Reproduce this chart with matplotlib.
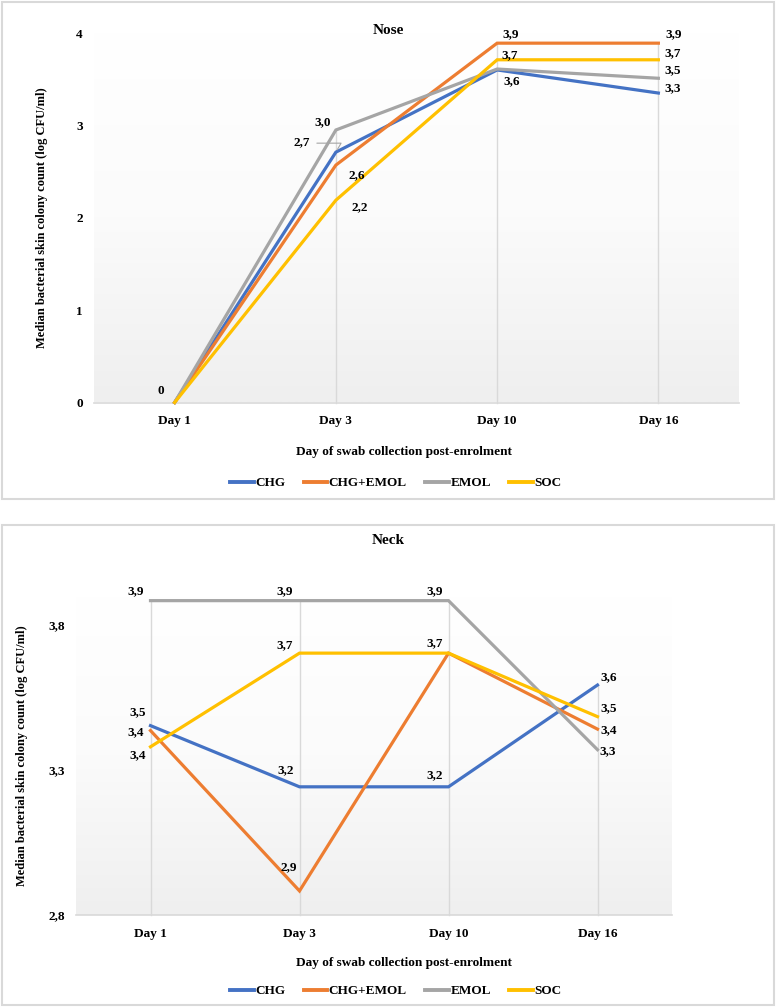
import numpy as np
import matplotlib
matplotlib.use("Agg")
import matplotlib.pyplot as plt
from matplotlib.colors import LinearSegmentedColormap
from matplotlib.lines import Line2D
from matplotlib.patches import Rectangle

# data
days = ["Day 1", "Day 3", "Day 10", "Day 16"]
series = ["CHG", "CHG+EMOL", "EMOL", "SOC"]
colors = ["#4472C4", "#ED7D31", "#A5A5A5", "#FFC000"]

nose_chg = [0, 2.71, 3.60, 3.35]
nose_chg_emol = [0, 2.57, 3.89, 3.89]
nose_emol = [0, 2.95, 3.61, 3.51]
nose_soc = [0, 2.19, 3.71, 3.71]

neck_chg = [3.453, 3.242, 3.242, 3.593]
neck_chg_emol = [3.436, 2.883, 3.703, 3.441]
neck_emol = [3.884, 3.884, 3.884, 3.37]
neck_soc = [3.38, 3.703, 3.703, 3.484]

# data labels as printed (None = hidden)
nose_lbl = {
    "CHG": ["0", "2,7", "3,6", "3,3"],
    "CHG+EMOL": [None, "2,6", "3,9", "3,9"],
    "EMOL": [None, "3,0", None, "3,5"],
    "SOC": [None, "2,2", "3,7", "3,7"],
}
neck_lbl = {
    "CHG": ["3,5", "3,2", "3,2", "3,6"],
    "CHG+EMOL": ["3,4", "2,9", None, "3,4"],
    "EMOL": ["3,9", "3,9", "3,9", "3,3"],
    "SOC": ["3,4", "3,7", "3,7", "3,5"],
}

# label offsets in pixels (dx, dy)
nose_off = {
    "CHG": [(-14, 11), (-34, 10), (15, -11), (14, 5)],
    "CHG+EMOL": [None, (21, -10), (14, 9), (15, 9)],
    "EMOL": [None, (-13, 8), None, (14, 8)],
    "SOC": [None, (24, -7), (13, 5), (14, 7)],
}
neck_off = {
    "CHG": [(-13, 13), (-14, 17), (-14, 12), (11, 8)],
    "CHG+EMOL": [(-15, -2), (-11, 24), None, (11, -1)],
    "EMOL": [(-15, 9), (-15, 9), (-14, 9), (10, -1)],
    "SOC": [(-13, -8), (-15, 8), (-14, 10), (11, 8)],
}

FONT = "Liberation Serif"
plt.rcParams["font.family"] = FONT
plt.rcParams["font.weight"] = "bold"

W, H = 776, 1008
fig = plt.figure(figsize=(W / 100, H / 100), dpi=100)
fig.patch.set_facecolor("white")

grad = LinearSegmentedColormap.from_list("g", ["#ffffff", "#fbfbfb", "#efefef"])


def px(x0, y0, x1, y1):
    # pixel box -> figure fraction rect
    return [x0 / W, 1 - y1 / H, (x1 - x0) / W, (y1 - y0) / H]


def panel(box, ax_box, title, title_y, data, lbls, offs, ylim, yticks, yticklabels,
          ylab_x, xlab_y, leg_y, leader=False):
    x0, y0, x1, y1 = box
    fig.patches.append(Rectangle((x0 / W, 1 - y1 / H), (x1 - x0) / W, (y1 - y0) / H,
                                 transform=fig.transFigure, fill=False,
                                 edgecolor="#d9d9d9", linewidth=1.5))
    ax = fig.add_axes(px(*ax_box))
    ax.set_xlim(-0.5, 3.5)
    ax.set_ylim(*ylim)
    ax.imshow(np.linspace(0, 1, 256).reshape(-1, 1), cmap=grad, aspect="auto",
              extent=[-0.5, 3.5, ylim[0], ylim[1]], zorder=0, interpolation="bilinear")
    x = np.arange(len(days))
    # drop lines
    top = np.max(np.array(data), axis=0)
    for i in x:
        if top[i] > ylim[0] + 1e-9:
            ax.plot([i, i], [ylim[0], top[i]], color="#d9d9d9", lw=1, zorder=1,
                    clip_on=False)
    for name, vals, c in zip(series, data, colors):
        ax.plot(x, vals, color=c, lw=2.3, zorder=3, clip_on=False,
                solid_joinstyle="miter")
    for name, vals in zip(series, data):
        for i, v in enumerate(vals):
            t = lbls[name][i]
            if t is None:
                continue
            dx, dy = offs[name][i]
            ax.annotate(t, (i, v), xytext=(dx, dy), textcoords="offset pixels",
                        ha="center", va="center", fontsize=9.5, fontweight="bold",
                        zorder=5, annotation_clip=False)
    if leader:
        ax.annotate("", (1, data[0][1]), xytext=(-19, 9), textcoords="offset pixels",
                    arrowprops=dict(arrowstyle="-", color="#a5a5a5", lw=0.8,
                                    shrinkA=0, shrinkB=2,
                                    connectionstyle="angle,angleA=0,angleB=60,rad=0"))
    for s in ["left", "right", "top"]:
        ax.spines[s].set_visible(False)
    ax.spines["bottom"].set_color("#d9d9d9")
    ax.spines["bottom"].set_linewidth(1.2)
    ax.set_xticks(x)
    ax.set_xticklabels(days, fontsize=9.5, fontweight="bold")
    ax.set_yticks(yticks)
    ax.set_yticklabels(yticklabels, fontsize=9.5, fontweight="bold")
    ax.tick_params(length=0, pad=8)
    ax.tick_params(axis="x", pad=9)
    cx = (x0 + x1) / 2
    fig.text(cx / W, 1 - title_y / H, title, ha="center", va="center",
             fontsize=11, fontweight="bold")
    ycen = (ax_box[1] + ax_box[3]) / 2
    fig.text(ylab_x / W, 1 - ycen / H, "Median bacterial skin colony count (log CFU/ml)",
             rotation=90, ha="center", va="center", fontsize=9, fontweight="bold")
    fig.text(cx / W + 0.02, 1 - xlab_y / H, "Day of swab collection post-enrolment",
             ha="center", va="center", fontsize=9.5, fontweight="bold")
    handles = [Line2D([0], [0], color=c, lw=2.8) for c in colors]
    fig.legend(handles, series, loc="center", bbox_to_anchor=(cx / W + 0.01, 1 - leg_y / H),
               ncol=4, frameon=False, handlelength=1.8, handletextpad=0.1,
               columnspacing=1.4, prop={"family": FONT, "weight": "bold", "size": 9.5})
    return ax


panel((2, 2, 774, 499), (94, 33, 739, 402.5), "Nose", 30,
      [nose_chg, nose_chg_emol, nose_emol, nose_soc], nose_lbl, nose_off,
      (0, 4), [0, 1, 2, 3, 4], ["0", "1", "2", "3", "4"], 42, 452, 483, leader=True)

panel((2, 525, 774, 1005), (76, 596, 672, 915), "Neck", 541,
      [neck_chg, neck_chg_emol, neck_emol, neck_soc], neck_lbl, neck_off,
      (2.8, 3.9), [2.8, 3.3, 3.8], ["2,8", "3,3", "3,8"], 22, 963, 991)

fig.savefig("out.png", dpi=100)
